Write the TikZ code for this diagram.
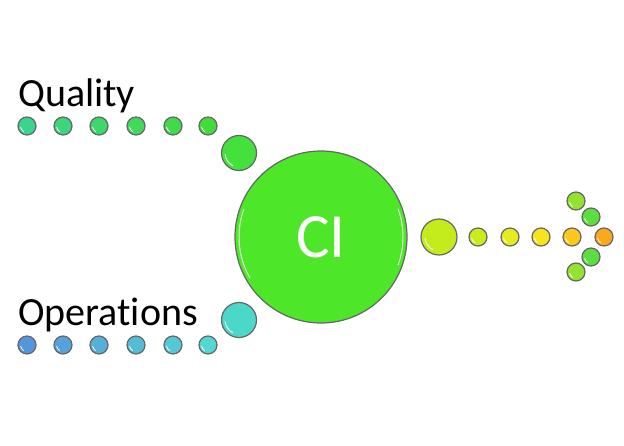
\documentclass[tikz,border=0pt]{standalone}
\usepackage{fontspec}
\setmainfont{Carlito}[Ligatures=NoCommon]
\begin{document}
\begin{tikzpicture}[x=1pt,y=-1pt,
  ball/.style={circle, draw=black!60, line width=1.2pt, inner sep=0pt, outer sep=0pt},
  sball/.style={ball, minimum size=18pt},
  gloss/.style={white, line width=0.9pt, opacity=0.85}]
\useasboundingbox (0,0) rectangle (624,445);
\definecolor{qA}{RGB}{60,212,140}
\definecolor{qB}{RGB}{66,220,58}
\definecolor{oA}{RGB}{84,150,222}
\definecolor{oB}{RGB}{84,214,210}
\definecolor{cigreen}{RGB}{78,230,40}
\definecolor{qmed}{RGB}{68,224,60}
\definecolor{omed}{RGB}{76,216,200}
\definecolor{rbig}{RGB}{196,236,28}

% labels
\node[anchor=base west, inner sep=0pt, font=\fontsize{40}{42}\selectfont] (qual) at (18,106) {Quality};
\node[anchor=base west, inner sep=0pt, font=\fontsize{40}{42}\selectfont] (oper) at (18,325) {Operations};

% quality row
\foreach \i/\x in {0/27,1/63,2/99,3/136,4/173,5/208}{
  \pgfmathtruncatemacro{\p}{\i*20}
  \colorlet{cc}{qB!\p!qA}
  \node[sball, fill=cc] (q\i) at (\x,126) {};
  \draw[gloss] (q\i.center) ++(120:6.5) arc (120:170:6.5);
}
% operations row
\foreach \i/\x in {0/27,1/63,2/99,3/136,4/173,5/208}{
  \pgfmathtruncatemacro{\p}{\i*20}
  \colorlet{cc}{oB!\p!oA}
  \node[sball, fill=cc] (o\i) at (\x,345) {};
  \draw[gloss] (o\i.center) ++(120:6.5) arc (120:170:6.5);
}
% medium circles
\node[ball, minimum size=35pt, fill=qmed] (qm) at (239,153) {};
\draw[gloss] (qm.center) ++(115:14) arc (115:175:14);
\node[ball, minimum size=35pt, fill=omed] (om) at (239,320) {};
\draw[gloss] (om.center) ++(115:14) arc (115:175:14);

% big CI circle
\node[ball, minimum size=172pt, fill=cigreen, text=white, font=\fontsize{63}{65}\selectfont] (ci) at (321,237) {CI};
\draw[white, line width=1pt, opacity=0.8] (ci.center) ++(150:82) arc (150:200:82);
\draw[white, line width=1pt, opacity=0.8] (ci.center) ++(-20:82) arc (-20:20:82);

% right side
\node[ball, minimum size=36pt, fill=rbig] (r0) at (439,237) {};
\draw[gloss] (r0.center) ++(115:14) arc (115:175:14);
\definecolor{r1}{RGB}{200,236,30}
\definecolor{r2}{RGB}{228,236,32}
\definecolor{r3}{RGB}{246,228,28}
\definecolor{r4}{RGB}{252,200,28}
\definecolor{r5}{RGB}{252,168,28}
\definecolor{ga}{RGB}{146,226,48}
\definecolor{gb}{RGB}{92,222,64}
\node[sball, fill=r1] (r1n) at (478,237) {};
\node[sball, fill=r2] (r2n) at (510,237) {};
\node[sball, fill=r3] (r3n) at (541,237) {};
\node[sball, fill=r4] (r4n) at (572,237) {};
\node[sball, fill=r5] (r5n) at (604,237) {};
\node[sball, fill=ga] (a1) at (576,201) {};
\node[sball, fill=gb] (a2) at (591,217) {};
\node[sball, fill=gb] (a3) at (591,257) {};
\node[sball, fill=ga] (a4) at (576,272) {};
\foreach \n in {r1n,r2n,r3n,r4n,r5n,a1,a2,a3,a4}{
  \draw[gloss] (\n.center) ++(120:6.5) arc (120:170:6.5);
}
\end{tikzpicture}
\end{document}
